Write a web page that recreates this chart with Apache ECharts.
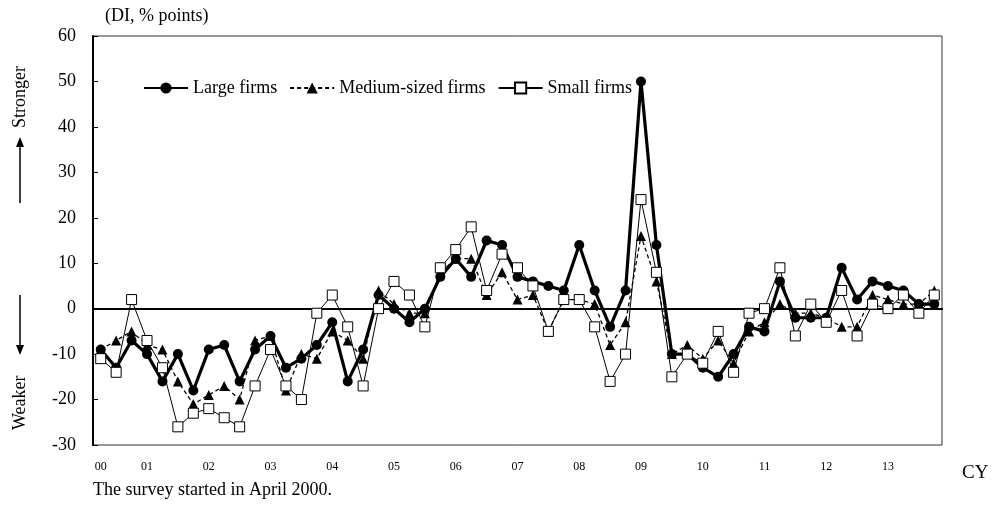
<!DOCTYPE html>
<html>
<head>
<meta charset="utf-8">
<script src="https://cdn.jsdelivr.net/npm/echarts@6/dist/echarts.min.js"></script>
<style>
  html, body { margin: 0; padding: 0; background: #fff; }
  #chart { width: 995px; height: 507px; }
</style>
</head>
<body>
<div id="chart"></div>
<script>
// quarterly DI, from 2000 Q2 to 2013 Q4
const startYear = 2000, startQuarter = 2, pointCount = 55;
const quarters = [];
for (let i = 0; i < pointCount; i++) {
  const q = startQuarter - 1 + i;
  quarters.push((startYear + Math.floor(q / 4)) + 'Q' + (q % 4 + 1));
}

const largeFirms = [-9, -13, -7, -10, -16, -10, -18, -9, -8, -16,
  -9, -6, -13, -11, -8, -3, -16, -9, 3, 0,
  -3, 0, 7, 11, 7, 15, 14, 7, 6, 5,
  4, 14, 4, -4, 4, 50, 14, -10, -10, -13,
  -15, -10, -4, -5, 6, -2, -2, -2, 9, 2,
  6, 5, 4, 1, 1];
const mediumFirms = [-9, -7, -5, -8, -9, -16, -21, -19, -17, -20,
  -7, -6, -18, -10, -11, -5, -7, -11, 4, 1,
  -1, -1, 8, 11, 11, 3, 8, 2, 3, -5,
  2, 2, 1, -8, -3, 16, 6, -10, -8, -11,
  -7, -12, -5, -3, 1, -1, -1, -2, -4, -4,
  3, 2, 1, 1, 4];
const smallFirms = [-11, -14, 2, -7, -13, -26, -23, -22, -24, -26,
  -17, -9, -17, -20, -1, 3, -4, -17, 0, 6,
  3, -4, 9, 13, 18, 4, 12, 9, 5, -5,
  2, 2, -4, -16, -10, 24, 8, -15, -10, -12,
  -5, -14, -1, 0, 9, -6, 1, -3, 4, -6,
  1, 0, 3, -1, 3];

const seriesNames = ['Large firms', 'Medium-sized firms', 'Small firms'];
const yTicks = { min: -30, max: 60, step: 10 };

const serif = '"Liberation Serif", "Times New Roman", serif';
const chart = echarts.init(document.getElementById('chart'));

const option = {
  animation: false,
  textStyle: { fontFamily: serif, color: '#000' },
  grid: {
    left: 93, right: 53, top: 36, bottom: 62,
    show: true, borderColor: '#333', borderWidth: 1
  },
  legend: {
    left: 138, top: 74,
    itemWidth: 44, itemHeight: 14, itemGap: 12,
    textStyle: { fontFamily: serif, fontSize: 18, color: '#000' },
    data: seriesNames
  },
  xAxis: {
    type: 'category',
    data: quarters,
    boundaryGap: true,
    axisLine: { lineStyle: { color: '#000', width: 2 } },
    axisTick: { show: false },
    axisLabel: {
      interval: (idx, val) => idx === 0 || val.endsWith('Q1'),
      formatter: val => val.slice(2, 4),
      fontFamily: serif, fontSize: 12, color: '#000', margin: 16
    },
    splitLine: { show: false }
  },
  yAxis: {
    type: 'value',
    min: yTicks.min, max: yTicks.max, interval: yTicks.step,
    axisLine: { show: true, lineStyle: { color: '#000', width: 2 } },
    axisTick: { show: true, inside: true, length: 5, lineStyle: { color: '#000' } },
    axisLabel: { fontFamily: serif, fontSize: 18, color: '#000', margin: 17 },
    splitLine: { show: false }
  },
  series: [
    {
      name: seriesNames[0], type: 'line', data: largeFirms, z: 3,
      symbol: 'circle', symbolSize: 10,
      lineStyle: { color: '#000', width: 3.2 },
      itemStyle: { color: '#000' },
      emphasis: { disabled: true },
      markLine: {
        silent: true, symbol: 'none', label: { show: false },
        lineStyle: { color: '#000', width: 1, type: 'solid' },
        data: [{ yAxis: 0 }]
      }
    },
    {
      name: seriesNames[1], type: 'line', data: mediumFirms, z: 4,
      symbol: 'triangle', symbolSize: 10,
      lineStyle: { color: '#000', width: 1.3, type: [4, 3] },
      itemStyle: { color: '#000' },
      emphasis: { disabled: true }
    },
    {
      name: seriesNames[2], type: 'line', data: smallFirms, z: 5,
      symbol: 'rect', symbolSize: 10,
      lineStyle: { color: '#000', width: 1 },
      itemStyle: { color: '#fff', borderColor: '#000', borderWidth: 1 },
      emphasis: { disabled: true }
    }
  ],
  graphic: [
    { type: 'text', left: 105, top: 7, style: { text: '(DI, % points)', font: '18px ' + serif, fill: '#000' } },
    { type: 'text', left: 93, top: 481, style: { text: 'The survey started in April 2000.', font: '18px ' + serif, fill: '#000' } },
    { type: 'text', left: 962, top: 464, style: { text: 'CY', font: '19px ' + serif, fill: '#000' } },
    // Stronger / Weaker markers at left
    { type: 'text', x: 11, y: 128, rotation: Math.PI / 2,
      style: { text: 'Stronger', font: '18px ' + serif, fill: '#000', textVerticalAlign: 'top' } },
    { type: 'line', shape: { x1: 20, y1: 203, x2: 20, y2: 146 }, style: { stroke: '#000', lineWidth: 1.5 } },
    { type: 'polygon', shape: { points: [[20, 137], [16, 147], [24, 147]] }, style: { fill: '#000' } },
    { type: 'line', shape: { x1: 20, y1: 295, x2: 20, y2: 346 }, style: { stroke: '#000', lineWidth: 1.5 } },
    { type: 'polygon', shape: { points: [[20, 355], [16, 345], [24, 345]] }, style: { fill: '#000' } },
    { type: 'text', x: 11, y: 430, rotation: Math.PI / 2,
      style: { text: 'Weaker', font: '18px ' + serif, fill: '#000', textVerticalAlign: 'top' } }
  ]
};

chart.setOption(option);
</script>
</body>
</html>
